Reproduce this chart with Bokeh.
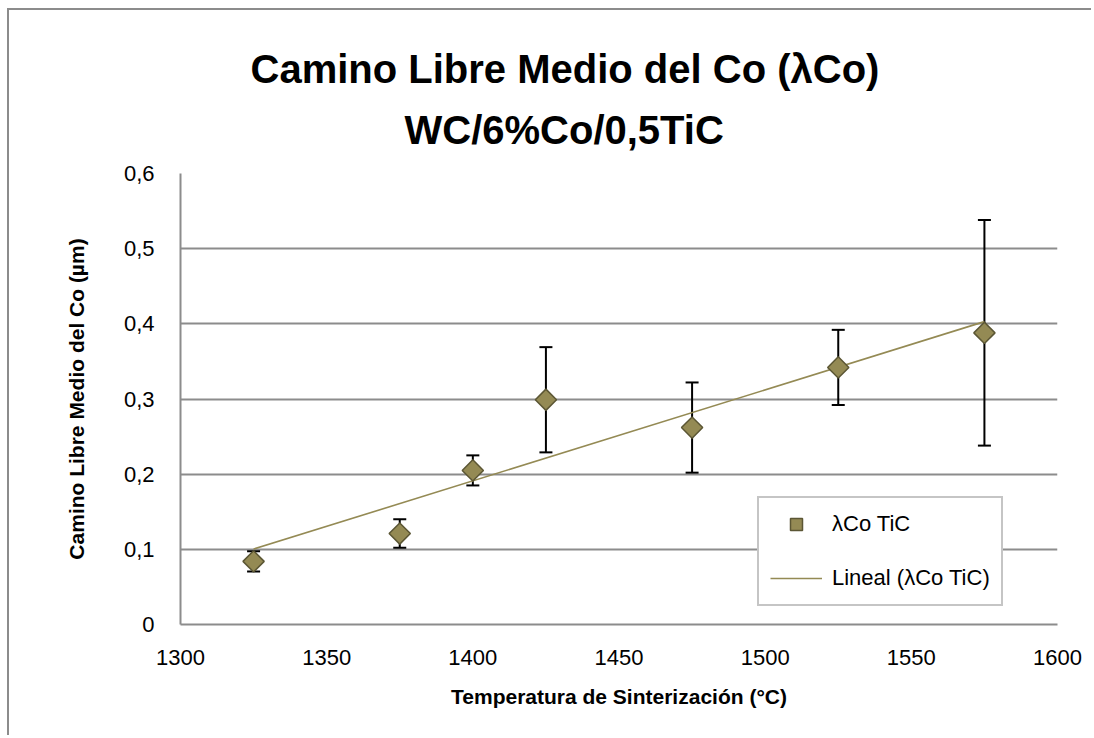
import numpy as np
from bokeh.plotting import figure
from bokeh.models import (ColumnDataSource, Whisker, TeeHead, FixedTicker, Title,
                          Legend, LegendItem)
from bokeh.embed import file_html
from bokeh.resources import INLINE

# ---- data ----
temperature = [1325, 1375, 1400, 1425, 1475, 1525, 1575]
lambda_co = [0.084, 0.121, 0.205, 0.299, 0.262, 0.342, 0.388]
error = [0.0135, 0.019, 0.020, 0.070, 0.060, 0.050, 0.150]

x_ticks = [1300, 1350, 1400, 1450, 1500, 1550, 1600]
y_ticks = [0, 0.1, 0.2, 0.3, 0.4, 0.5, 0.6]
y_tick_labels = ["0", "0,1", "0,2", "0,3", "0,4", "0,5", "0,6"]

title_line1 = "Camino Libre Medio del Co (λCo)"
title_line2 = "WC/6%Co/0,5TiC"
x_title = "Temperatura de Sinterización (°C)"
y_title = "Camino Libre Medio del Co (µm)"
series_label = "λCo TiC"
trend_label = "Lineal (λCo TiC)"

FONT = "Liberation Sans"
OLIVE = "#948A54"
GRID = "#8c8c8c"

upper = [v + e for v, e in zip(lambda_co, error)]
lower = [v - e for v, e in zip(lambda_co, error)]
src = ColumnDataSource(dict(x=temperature, y=lambda_co, upper=upper, lower=lower))

slope, intercept = np.polyfit(temperature, lambda_co, 1)
trend_x = [min(temperature), max(temperature)]
trend_y = [slope * t + intercept for t in trend_x]

p = figure(width=1084, height=727, x_range=(1300, 1600), y_range=(0, 0.6),
           output_backend="svg", toolbar_location=None,
           min_border_left=171, min_border_right=36, min_border_top=163,
           min_border_bottom=113)
p.styles = {"border-left": "2px solid #8c8c8c", "border-top": "2px solid #8c8c8c",
            "margin-left": "7px", "margin-top": "8px"}
p.outline_line_color = None
p.background_fill_color = "white"
p.border_fill_color = "white"

# titles (first added sits closest to the frame)
spacer = Title(text=" ", text_font=FONT, text_font_size="16px", standoff=0)
t2 = Title(text=title_line2, align="left", offset=224, text_font=FONT,
           text_font_size="40px", text_font_style="bold", text_color="black", standoff=5)
t1 = Title(text=title_line1, align="left", offset=70, text_font=FONT,
           text_font_size="40px", text_font_style="bold", text_color="black", standoff=25)
p.add_layout(spacer, "above")
p.add_layout(t2, "above")
p.add_layout(t1, "above")

# axes
for ax in (p.xaxis[0], p.yaxis[0]):
    ax.axis_line_color = GRID
    ax.axis_line_width = 2
    ax.major_tick_line_color = None
    ax.minor_tick_line_color = None
    ax.major_label_text_font = FONT
    ax.major_label_text_font_size = "22px"
    ax.major_label_text_color = "black"
    ax.axis_label_text_font = FONT
    ax.axis_label_text_font_size = "21px"
    ax.axis_label_text_font_style = "bold"
    ax.axis_label_text_color = "black"

p.xaxis.ticker = FixedTicker(ticks=x_ticks)
p.yaxis.ticker = FixedTicker(ticks=y_ticks)
p.yaxis.major_label_overrides = dict(zip(y_ticks, y_tick_labels))
p.xaxis.axis_label = x_title
p.yaxis.axis_label = y_title
p.xaxis.major_label_standoff = 19
p.yaxis.major_label_standoff = 20
p.xaxis.axis_label_standoff = 17
p.yaxis.axis_label_standoff = 33

p.xgrid.grid_line_color = None
p.ygrid.grid_line_color = GRID
p.ygrid.grid_line_width = 2

# error bars
w = Whisker(source=src, base="x", upper="upper", lower="lower",
            line_color="black", line_width=2, level="underlay")
w.upper_head = TeeHead(size=13, line_color="black", line_width=2)
w.lower_head = TeeHead(size=13, line_color="black", line_width=2)
p.add_layout(w)

# trend line and points
trend = p.line(trend_x, trend_y, line_color=OLIVE, line_width=1.6)
pts = p.scatter("x", "y", source=src, marker="square", angle=np.pi / 4, size=15,
                fill_color=OLIVE, line_color="#5B5634", line_width=1.5)

legend = Legend(items=[LegendItem(label=series_label, renderers=[pts]),
                       LegendItem(label=trend_label, renderers=[trend])],
                location=(577, 18))
legend.border_line_color = GRID
legend.border_line_width = 2
legend.background_fill_color = "white"
legend.background_fill_alpha = 1
legend.label_text_font = FONT
legend.label_text_font_size = "22px"
legend.label_text_color = "black"
legend.glyph_width = 52
legend.glyph_height = 30
legend.label_height = 30
legend.label_standoff = 10
legend.padding = 11
legend.spacing = 24
legend.margin = 0
p.add_layout(legend)

open("out.html", "w").write(file_html(p, INLINE))
